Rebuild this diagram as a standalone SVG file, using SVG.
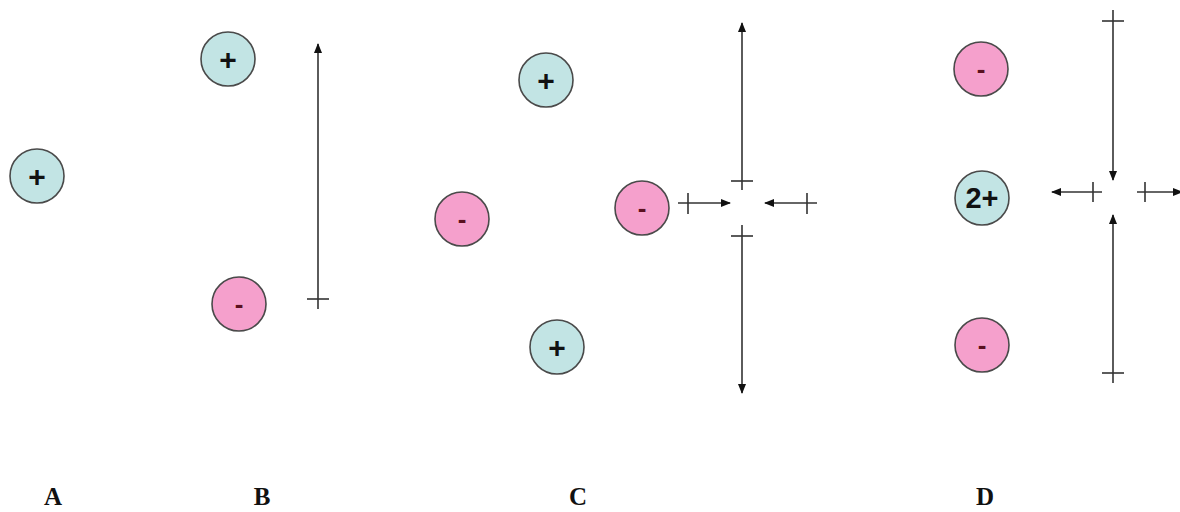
<svg xmlns="http://www.w3.org/2000/svg" width="1180" height="512" viewBox="0 0 1180 512">
<defs>
<marker id="ah" viewBox="0 0 10 10" refX="9" refY="5" markerWidth="10" markerHeight="10" markerUnits="userSpaceOnUse" orient="auto">
<path d="M0,1 L10,5 L0,9 Z" fill="#111"/>
</marker>
</defs>
<style>
.pos{fill:#c2e4e4;stroke:#4a4a4a;stroke-width:1.6}
.neg{fill:#f5a0cc;stroke:#4a4a4a;stroke-width:1.6}
.sym{font-family:"Liberation Sans",Arial,sans-serif;font-weight:bold;font-size:30px;fill:#111;text-anchor:middle}
.m{fill:#5a1020;font-size:26px}
.ln{stroke:#333;stroke-width:1.6;fill:none}
.lab{font-family:"Liberation Serif","Times New Roman",serif;font-weight:bold;font-size:25px;fill:#111;text-anchor:middle}
</style>
<rect width="1180" height="512" fill="#fff"/>
<g id="A-pos"><circle class="pos" cx="37" cy="176" r="27"/><text class="sym" x="37" y="187">+</text></g>
<g id="B-pos"><circle class="pos" cx="228" cy="59" r="27"/><text class="sym" x="228" y="70">+</text></g>
<g id="B-neg"><circle class="neg" cx="239" cy="304" r="27"/><text class="sym m" x="239" y="313">-</text></g>
<g id="C-pos1"><circle class="pos" cx="546" cy="80" r="27"/><text class="sym" x="546" y="91">+</text></g>
<g id="C-neg1"><circle class="neg" cx="462" cy="219" r="27"/><text class="sym m" x="462" y="228">-</text></g>
<g id="C-neg2"><circle class="neg" cx="642" cy="208" r="27"/><text class="sym m" x="642" y="217">-</text></g>
<g id="C-pos2"><circle class="pos" cx="557" cy="347" r="27"/><text class="sym" x="557" y="358">+</text></g>
<g id="D-neg1"><circle class="neg" cx="981" cy="69" r="27"/><text class="sym m" x="981" y="78">-</text></g>
<g id="D-pos"><circle class="pos" cx="982" cy="198" r="27"/><text class="sym" x="982" y="208" style="font-size:29px">2+</text></g>
<g id="D-neg2"><circle class="neg" cx="982" cy="345" r="27"/><text class="sym m" x="982" y="354">-</text></g>
<g id="connectors">
<line class="ln" x1="318" y1="309" x2="318" y2="44" marker-end="url(#ah)"/>
<line class="ln" x1="307" y1="299" x2="329" y2="299"/>
<line class="ln" x1="742" y1="190" x2="742" y2="23" marker-end="url(#ah)"/>
<line class="ln" x1="731" y1="181" x2="753" y2="181"/>
<line class="ln" x1="742" y1="225" x2="742" y2="393" marker-end="url(#ah)"/>
<line class="ln" x1="731" y1="236" x2="753" y2="236"/>
<line class="ln" x1="678" y1="203" x2="730" y2="203" marker-end="url(#ah)"/>
<line class="ln" x1="688" y1="193" x2="688" y2="214"/>
<line class="ln" x1="817" y1="203" x2="765" y2="203" marker-end="url(#ah)"/>
<line class="ln" x1="807" y1="193" x2="807" y2="214"/>
<line class="ln" x1="1113" y1="10" x2="1113" y2="180" marker-end="url(#ah)"/>
<line class="ln" x1="1102" y1="21" x2="1124" y2="21"/>
<line class="ln" x1="1113" y1="383" x2="1113" y2="215" marker-end="url(#ah)"/>
<line class="ln" x1="1102" y1="373" x2="1124" y2="373"/>
<line class="ln" x1="1102" y1="192" x2="1052" y2="192" marker-end="url(#ah)"/>
<line class="ln" x1="1093" y1="182" x2="1093" y2="202"/>
<line class="ln" x1="1137" y1="192" x2="1182" y2="192" marker-end="url(#ah)"/>
<line class="ln" x1="1145" y1="182" x2="1145" y2="202"/>
</g>
<g id="labels">
<text class="lab" x="53" y="505">A</text>
<text class="lab" x="262" y="505">B</text>
<text class="lab" x="578" y="505">C</text>
<text class="lab" x="985" y="505">D</text>
</g>
</svg>
